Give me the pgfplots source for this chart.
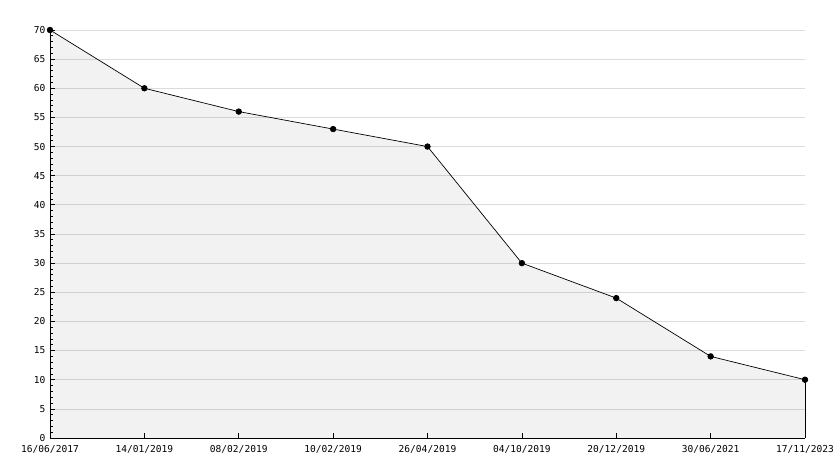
\documentclass[border=0pt]{standalone}
\usepackage{pgfplots}
\pgfplotsset{compat=1.18}
\usepackage{fontspec}
\setmainfont{DejaVu Sans Mono}
\definecolor{gridgray}{HTML}{DCDCDC}
\begin{document}
\begin{tikzpicture}[x=1bp,y=1bp]
\useasboundingbox (-50,-30) rectangle (784,438);
\begin{axis}[
  at={(0,0)}, anchor=south west,
  scale only axis, width=755bp, height=408bp,
  xmin=0, xmax=8, ymin=0, ymax=70,
  axis x line=bottom, axis y line=left,
  axis line style={-, black, line width=0.8bp},
  xtick={0,...,8},
  xticklabels={16/06/2017,14/01/2019,08/02/2019,10/02/2019,26/04/2019,04/10/2019,20/12/2019,30/06/2021,17/11/2023},
  ytick={0,5,...,70},
  minor y tick num=4,
  tick align=inside,
  major tick length=5bp, minor tick length=3bp,
  tick style={black, line width=0.7bp},
  ymajorgrids, major grid style={gridgray, line width=0.7bp},
  tick label style={font=\fontsize{9.6}{11}\selectfont, black},
  /pgf/number format/assume math mode=true,
  xticklabel style={yshift=-4bp},
  yticklabel style={xshift=-1bp},
  clip=false,
]
\addplot[fill=black, fill opacity=0.052, draw=none] coordinates {
(0,70) (1,60) (2,56) (3,53) (4,50) (5,30) (6,24) (7,14) (8,10)
} \closedcycle;
\addplot[black, line width=0.7bp, mark=*, mark size=2.8bp, mark options={fill=black}] coordinates {
(0,70) (1,60) (2,56) (3,53) (4,50) (5,30) (6,24) (7,14) (8,10)
};
\addplot[black, line width=0.7bp] coordinates {(8,10) (8,0)};
\end{axis}
\end{tikzpicture}
\end{document}
